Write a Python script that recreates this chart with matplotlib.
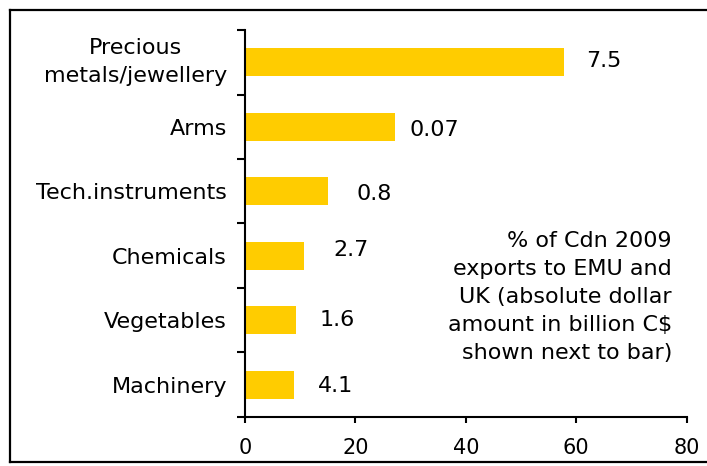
import matplotlib.pyplot as plt
from matplotlib.lines import Line2D
import numpy as np

# share of 2009 exports going to EMU + UK, by product group (bottom to top)
categories = ['Machinery', 'Vegetables', 'Chemicals', 'Tech.instruments',
              'Arms', 'Precious\nmetals/jewellery']
shares = [8.9, 9.2, 10.7, 15.0, 27.2, 57.8]
amounts = ['4.1', '1.6', '2.7', '0.8', '0.07', '7.5']

# hand-placed offsets of the dollar labels (points from bar end)
label_dx = [17, 17, 21, 21, 10, 16]
label_dy = [-1, 0, 4, -2, -2, 1]

bar_color = '#FFCC00'
fs = 16

fig = plt.figure(figsize=[7.07, 4.66], dpi=100)
ax = fig.add_axes([0.3465, 0.1052, 0.6248, 0.8304])

y = np.arange(len(categories))
ax.barh(y, shares, height=0.43, color=bar_color, zorder=2)

for i in range(len(categories)):
    ax.annotate(amounts[i], xy=(shares[i], y[i]), xytext=(label_dx[i], label_dy[i]),
                textcoords='offset points', ha='left', va='center', fontsize=fs)

ax.set_xlim(0, 80)
ax.set_ylim(-0.5, len(categories) - 0.5)
ax.set_xticks([0, 20, 40, 60, 80])
ax.tick_params(axis='x', direction='out', length=4, width=1.5, pad=11, labelsize=15)

# category names centred on bars, tick marks between them
ax.set_yticks(y)
ax.set_yticklabels(categories, fontsize=fs)
ax.set_yticks(np.arange(-0.5, len(categories)), minor=True)
ax.tick_params(axis='y', which='major', length=0, pad=13)
ax.tick_params(axis='y', which='minor', direction='out', length=6, width=1.5)
for lab in ax.get_yticklabels():
    lab.set_multialignment('center')
    lab.set_linespacing(1.5)
    if '\n' in lab.get_text():
        lab.set_verticalalignment('center')

for side in ['top', 'right']:
    ax.spines[side].set_visible(False)
for side in ['left', 'bottom']:
    ax.spines[side].set_linewidth(1.5)

W, H = 707.0, 466.0
ax.text(672 / W, 1 - 231 / H,
        '% of Cdn 2009\nexports to EMU and\nUK (absolute dollar\namount in billion C$\nshown next to bar)',
        transform=fig.transFigure, ha='right', va='top', fontsize=fs, linespacing=1.5)

# outer box around the chart (open on the right)
for xs, ys in [([10 / W, 1.0], [1 - 10 / H, 1 - 10 / H]),
               ([10 / W, 1.0], [1 - 462 / H, 1 - 462 / H]),
               ([10 / W, 10 / W], [1 - 10 / H, 1 - 462 / H])]:
    fig.add_artist(Line2D(xs, ys, transform=fig.transFigure, color='black', lw=1.6))

fig.savefig('out.png', dpi=100)
